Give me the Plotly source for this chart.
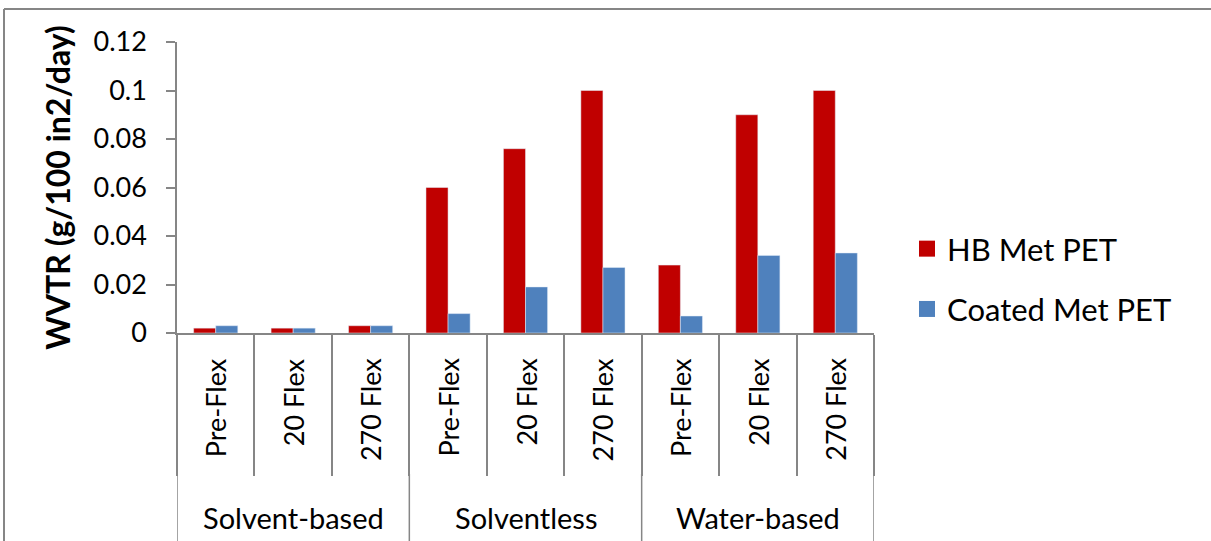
import plotly.graph_objects as go

groups = ["Solvent-based", "Solventless", "Water-based"]
flex_labels = ["Pre-Flex", "20 Flex", "270 Flex"]
hb_met_pet = [0.002, 0.002, 0.003, 0.060, 0.076, 0.100, 0.028, 0.090, 0.100]
coated_met_pet = [0.003, 0.002, 0.003, 0.008, 0.019, 0.027, 0.007, 0.032, 0.033]
y_ticks = [0, 0.02, 0.04, 0.06, 0.08, 0.1, 0.12]

# unique category keys
cats = [f"{g}|{f}" for g in groups for f in flex_labels]

W, H = 1211, 541
ML, MR, MT, MB = 177, 337, 42, 208
PW, PH = W - ML - MR, H - MT - MB

def py(p):  # pixel y -> paper y
    return (H - MB - p) / PH

def px(p):  # pixel x -> paper x
    return (p - ML) / PW

FONT = "Lato"
RED = "#C00000"
BLUE = "#4F81BD"
GREY = "#868686"

fig = go.Figure()
fig.add_trace(go.Bar(x=cats, y=hb_met_pet, marker_color=RED, name="HB Met PET", showlegend=False))
fig.add_trace(go.Bar(x=cats, y=coated_met_pet, marker_color=BLUE, name="Coated Met PET", showlegend=False))

# legend proxies with larger square symbols
for name, col, grp in [("HB Met PET", RED, "a"), ("Coated Met PET", BLUE, "b")]:
    fig.add_trace(go.Scatter(x=[None], y=[None], mode="markers", name=name, legendgroup=grp,
                             marker=dict(symbol="square", size=20, color=col)))

annotations = []
for c, (g, f) in zip(cats, [(g, f) for g in groups for f in flex_labels]):
    annotations.append(dict(x=c, xref="x", y=py(356), yref="paper", text=f, textangle=-90,
                            showarrow=False, xanchor="center", yanchor="top",
                            font=dict(family=FONT, size=27, color="black")))
for i, g in enumerate(groups):
    mid = cats[i * len(flex_labels) + len(flex_labels) // 2]
    annotations.append(dict(x=mid, xref="x", y=py(517), yref="paper", text=g,
                            showarrow=False, xanchor="center", yanchor="middle",
                            font=dict(family=FONT, size=29, color="black")))

shapes = []
n = len(flex_labels)
for i in range(len(groups) + 1):
    b = i * n - 0.5
    shapes.append(dict(type="line", xref="x", yref="paper", x0=b, x1=b, y0=py(474), y1=py(560),
                       line=dict(color=GREY, width=1.5)))
# chart border
shapes.append(dict(type="line", xref="paper", yref="paper", x0=px(4), x1=px(4), y0=py(9), y1=py(560),
                   line=dict(color=GREY, width=2)))
shapes.append(dict(type="line", xref="paper", yref="paper", x0=px(4), x1=px(1230), y0=py(9), y1=py(9),
                   line=dict(color=GREY, width=2)))

fig.update_layout(
    width=W, height=H,
    margin=dict(l=ML, r=MR, t=MT, b=MB, pad=0),
    paper_bgcolor="white", plot_bgcolor="white",
    barmode="group", bargap=0.43, bargroupgap=0,
    font=dict(family=FONT, size=26, color="black"),
    xaxis=dict(type="category", categoryorder="array", categoryarray=cats,
               showticklabels=False, ticks="outside", tickson="boundaries", ticklen=141,
               tickcolor=GREY, tickwidth=1.5, showline=True, linecolor=GREY, linewidth=1.5,
               showgrid=False, zeroline=False, range=[-0.5, len(cats) - 0.5]),
    yaxis=dict(range=[0, 0.12], tickvals=y_ticks, ticktext=[f"{v:g}" for v in y_ticks],
               ticks="outside", ticklen=9, tickcolor=GREY, tickwidth=1.5, ticklabelstandoff=14,
               showline=True, linecolor=GREY, linewidth=1.5, showgrid=False, zeroline=False,
               tickfont=dict(family=FONT, size=27, color="black"),
               title=dict(text="<b>WVTR (g/100 in2/day)</b>", standoff=13,
                          font=dict(family=FONT, size=32, color="black"))),
    legend=dict(x=px(907), xanchor="left", y=py(279), yanchor="middle",
                font=dict(family=FONT, size=31, color="black"),
                tracegroupgap=17, bgcolor="rgba(0,0,0,0)", itemwidth=30),
    annotations=annotations, shapes=shapes,
)

fig.write_html("out.html", config={"displayModeBar": False},
               post_script="document.body.style.margin='0';document.body.style.overflow='hidden';")
